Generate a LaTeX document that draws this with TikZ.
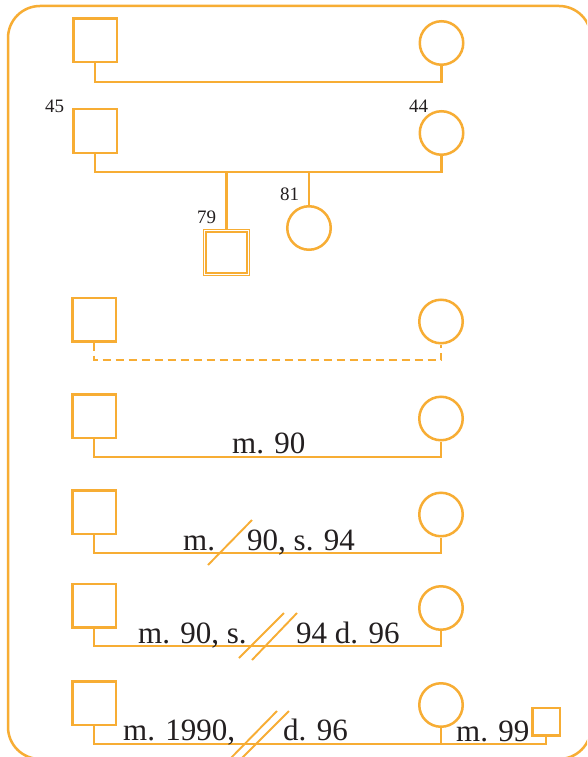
\documentclass[tikz,border=0pt]{standalone}
\usepackage{fontspec}
\usetikzlibrary{calc}
\setmainfont{Liberation Serif}
\definecolor{kin}{RGB}{247,173,52}
\definecolor{ink}{RGB}{35,31,32}
\begin{document}
\begin{tikzpicture}[x=1pt,y=-1pt,
  male/.style={draw=kin,line width=2.5pt,rectangle,minimum size=43.5pt,inner sep=0pt},
  female/.style={draw=kin,line width=2.5pt,circle,minimum size=43.5pt,inner sep=0pt},
  tie/.style={draw=kin,line width=2.5pt},
  broken/.style={draw=kin,line width=2.5pt,dash pattern=on 8pt off 5pt},
  cut/.style={draw=kin,line width=1.9pt},
  age/.style={text=ink,font=\fontsize{19}{22}\selectfont,anchor=base west,inner sep=0pt},
  note/.style={text=ink,font=\fontsize{31}{36}\selectfont,anchor=base west,inner sep=0pt}]
\useasboundingbox (0,0) rectangle (587,757);
\clip (0,0) rectangle (587,757);
\fill[white] (0,0) rectangle (587,757);
% outer frame
\draw[kin,line width=2.5pt,rounded corners=32pt] (8,6) rectangle (591,759);

% couple 1
\node[male] (s1) at (95,40.5) {};
\node[female] (c1) at (441.5,43) {};
\coordinate (b1) at (95,82);
\draw[tie] (s1.south) -- (s1.south |- b1) -| (c1.south);

% couple 2 with children
\node[male] (s2) at (95,131) {};
\node[female] (c2) at (441.5,133) {};
\node[age] (a45) at (45,113) {45};
\node[age] (a44) at (409,113) {44};
\coordinate (b2) at (95,172);
\draw[tie] (s2.south) -- (s2.south |- b2) -| (c2.south);
\coordinate (k1) at (226.5,172);
\coordinate (k2) at (309,172);
\node[draw=kin,line width=1.1pt,rectangle,minimum size=46pt,inner sep=0pt] (son) at (226.5,252.5) {};
\draw[kin,line width=1.3pt] ($(son.center)+(-20.5,-20.5)$) rectangle ($(son.center)+(20.5,20.5)$);
\node[female] (dau) at (309,228) {};
\draw[tie] (k1) -- (son.north);
\draw[tie] (k2) -- (dau.north);
\node[age] (a79) at (197,223) {79};
\node[age] (a81) at (280,200) {81};

% couple 3, unmarried
\node[male] (s3) at (94,319.5) {};
\node[female] (c3) at (441,321.5) {};
\coordinate (b3) at (94,360);
\draw[broken] (s3.south) -- (s3.south |- b3) -| (c3.south);

% couple 4, married
\node[male] (s4) at (94,416) {};
\node[female] (c4) at (441,418.5) {};
\coordinate (b4) at (94,457);
\draw[tie] (s4.south) -- (s4.south |- b4) -| (c4.south);
\node[note] (t4) at (232,453) {m. 90};

% couple 5, separated
\node[male] (s5) at (94,512) {};
\node[female] (c5) at (441,514.5) {};
\coordinate (b5) at (94,553);
\draw[tie] (s5.south) -- (s5.south |- b5) -| (c5.south);
\node[note] (t5a) at (183,550) {m.};
\node[note] (t5b) at (247,550) {90, s. 94};
\coordinate (x5a) at (208,565);
\coordinate (x5b) at (252,520);
\draw[cut] (x5a) -- (x5b);

% couple 6, divorced
\node[male] (s6) at (94,605.5) {};
\node[female] (c6) at (441,608) {};
\coordinate (b6) at (94,646);
\draw[tie] (s6.south) -- (s6.south |- b6) -| (c6.south);
\node[note] (t6a) at (138,643) {m. 90, s.};
\node[note] (t6b) at (296,643) {94 d. 96};
\coordinate (x6a) at (239,658);
\coordinate (x6b) at (284,613);
\coordinate (x6c) at (252,660);
\coordinate (x6d) at (297,613);
\draw[cut] (x6a) -- (x6b);
\draw[cut] (x6c) -- (x6d);

% couple 7, divorced and remarried
\node[male] (s7) at (94,703) {};
\node[female] (c7) at (441,705) {};
\coordinate (b7) at (94,744);
\draw[tie] (s7.south) -- (s7.south |- b7) -| (c7.south);
\node[draw=kin,line width=2.5pt,rectangle,minimum size=27.5pt,inner sep=0pt] (s8) at (546,721.5) {};
\draw[tie] (c7.south) -- (c7.south |- b7) -| (s8.south);
\node[note] (t7a) at (123,740) {m. 1990,};
\node[note] (t7b) at (283,740) {d. 96};
\node[note] (t8) at (456,741) {m. 99};
\coordinate (x7a) at (227,762);
\coordinate (x7b) at (277,711);
\coordinate (x7c) at (238,762);
\coordinate (x7d) at (289,711);
\draw[cut] (x7a) -- (x7b);
\draw[cut] (x7c) -- (x7d);
\end{tikzpicture}
\end{document}
